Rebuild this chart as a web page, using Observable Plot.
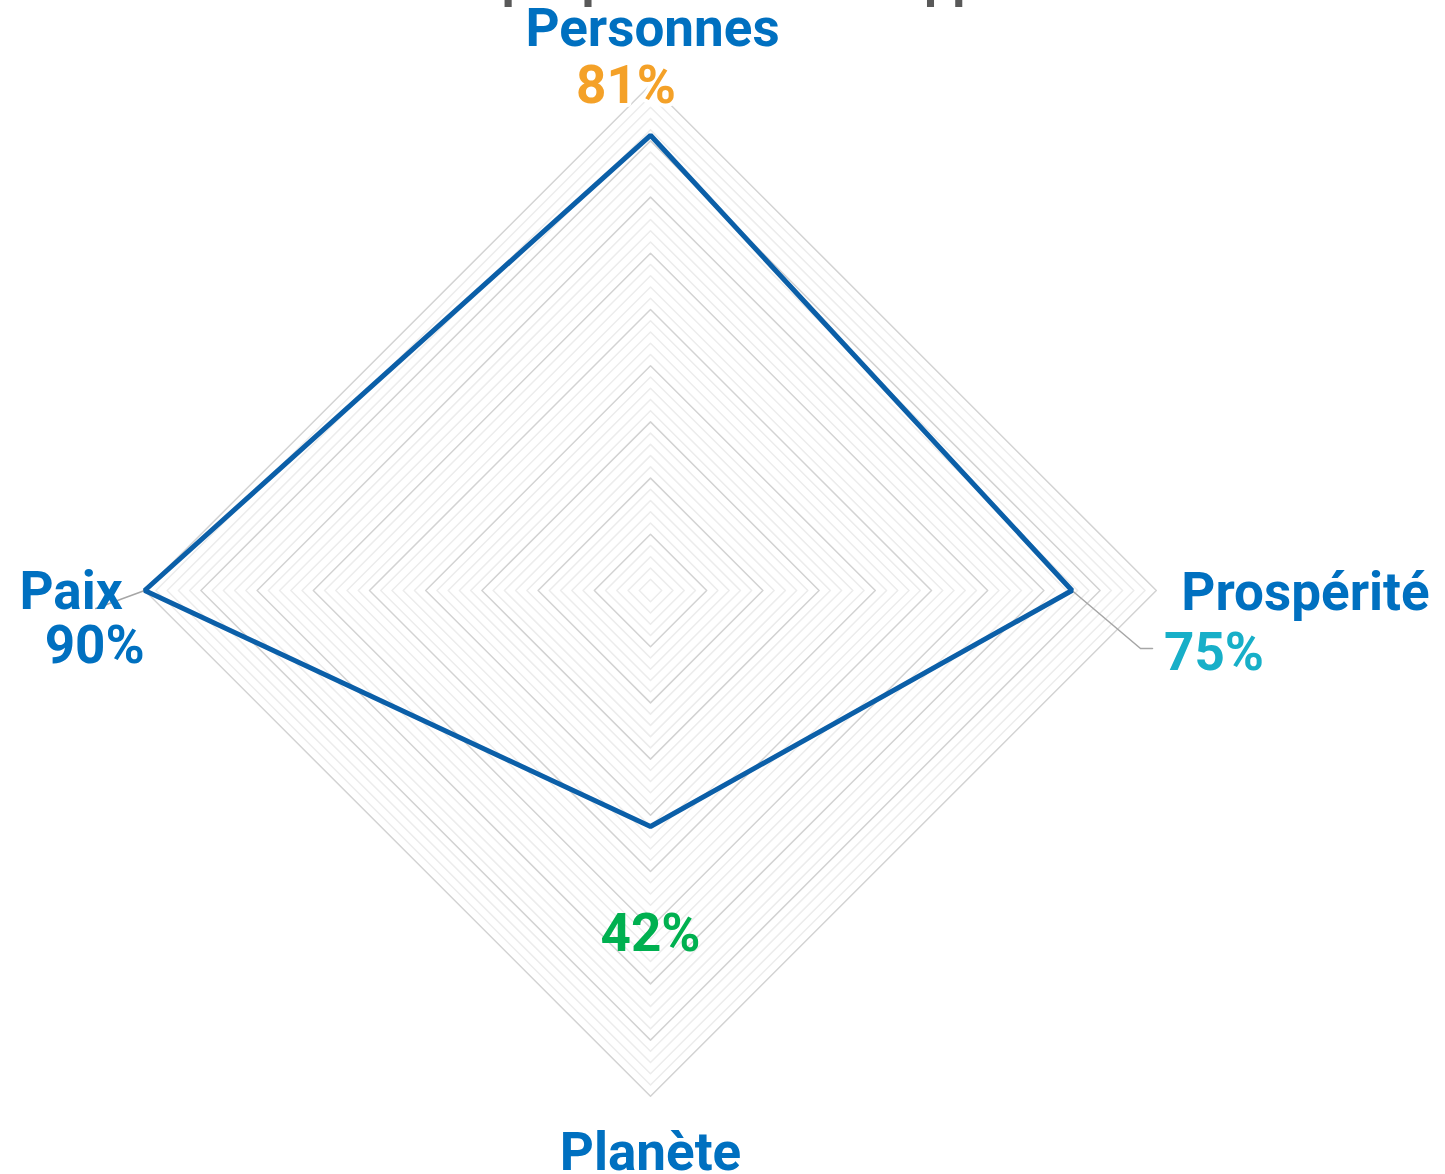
<!DOCTYPE html>
<html>
<head>
<meta charset="utf-8">
<script src="https://cdn.jsdelivr.net/npm/d3@7"></script>
<script src="https://cdn.jsdelivr.net/npm/@observablehq/plot@0.6"></script>
<style>
  html, body { margin: 0; padding: 0; background: #ffffff; overflow: hidden; }
  #chart svg { display: block; overflow: visible; }
</style>
</head>
<body>
<div id="chart"></div>
<script>
// ---- Data ----
const title = "Score de chaque pilier du développement durable";
const categories = ["Personnes", "Prospérité", "Planète", "Paix"];
const values = [0.81, 0.75, 0.42, 0.90];
const valueLabels = ["81%", "75%", "42%", "90%"];
const gridMax = 0.90;      // outer ring of the radar grid
const gridMinorStep = 0.02;
const gridMajorStep = 0.10;

// ---- Styles ----
const labelBlue = "#0070C0";
const valueColors = {"Personnes": "#F4A128", "Prospérité": "#17AFC8", "Planète": "#00B050", "Paix": "#0070C0"};
const lineColor = "#0B5FA8";
const font = "Roboto, 'Open Sans', sans-serif";
const fs = 53;

// ---- Layout ----
const W = 1445, H = 1174;
const cx = 650, cy = 590, k = 562; // centre (px) and pixels per unit of value
const n = categories.length;
const ang = i => i * 2 * Math.PI / n;
const px = (r, i) => r * Math.sin(ang(i));
const py = (r, i) => r * Math.cos(ang(i));

const levels = d3.range(1, Math.round(gridMax / gridMinorStep) + 1).map(j => +(j * gridMinorStep).toFixed(4));
const isMajor = l => Math.abs(l / gridMajorStep - Math.round(l / gridMajorStep)) < 1e-6;
const gridPts = levels.flatMap(l => d3.range(n).map(i => ({level: l, major: isMajor(l), x: px(l, i), y: py(l, i)})));

const pts = categories.map((c, i) => ({cat: c, v: values[i], label: valueLabels[i], x: px(values[i], i), y: py(values[i], i)}));
const outer = categories.map((c, i) => ({cat: c, x: px(gridMax, i), y: py(gridMax, i)}));

// leader lines (pixel offsets converted to value units)
const leader = (p, segs) => [{x: p.x, y: p.y}, ...segs.map(([dx, dy]) => ({x: p.x + dx / k, y: p.y - dy / k}))];
const leaderP = leader(pts[1], [[68.5, 58], [80.5, 58]]);
const leaderA = leader(pts[3], [[-49, 18]]);

const byCat = (arr, c) => arr.filter(d => d.cat === c);
const catText = (c, opts) => Plot.text(byCat(outer, c), {x: "x", y: "y", text: "cat", fill: labelBlue, fontSize: fs, fontWeight: "bold", lineAnchor: "bottom", ...opts});
const valText = (c, opts) => Plot.text(byCat(pts, c), {x: "x", y: "y", text: "label", fill: valueColors[c], fontSize: fs, fontWeight: "bold", lineAnchor: "bottom", ...opts});

const chart = Plot.plot({
  width: W,
  height: H,
  margin: 0,
  x: {domain: [-cx / k, (W - cx) / k], axis: null},
  y: {domain: [-(H - cy) / k, cy / k], axis: null},
  style: {fontFamily: font, background: "#ffffff", overflow: "visible"},
  marks: [
    // minor grid
    Plot.line(gridPts.filter(d => !d.major), {x: "x", y: "y", z: "level", curve: "linear-closed", stroke: "#ececec", strokeWidth: 1.5}),
    // major grid
    Plot.line(gridPts.filter(d => d.major), {x: "x", y: "y", z: "level", curve: "linear-closed", stroke: "#d3d3d3", strokeWidth: 1.5}),
    // leader lines
    Plot.line(leaderP, {x: "x", y: "y", stroke: "#a6a6a6", strokeWidth: 1.5}),
    Plot.line(leaderA, {x: "x", y: "y", stroke: "#a6a6a6", strokeWidth: 1.5}),
    // data polygon
    Plot.line(pts, {x: "x", y: "y", curve: "linear-closed", stroke: lineColor, strokeWidth: 5, strokeLinejoin: "miter"}),
    // category labels
    catText("Personnes", {dx: 2, dy: -38.5}),
    catText("Prospérité", {textAnchor: "start", dx: 25, dy: 19}),
    catText("Planète", {dy: 74}),
    catText("Paix", {textAnchor: "end", dx: -22, dy: 18}),
    // value labels
    valText("Personnes", {dx: -24.5, dy: -32, stroke: "#ffffff", strokeWidth: 8}),
    valText("Prospérité", {textAnchor: "start", dx: 92, dy: 79}),
    valText("Planète", {dy: 124}),
    valText("Paix", {dx: -50, dy: 72}),
    // title (cut off at the top edge, as in the reference)
    Plot.text([title], {frameAnchor: "top-left", text: d => d, fill: "#595959", fontSize: 50, fontWeight: "bold", textAnchor: "start", lineAnchor: "bottom", dx: 195, dy: -4})
  ]
});
document.getElementById("chart").appendChild(chart);
</script>
</body>
</html>
